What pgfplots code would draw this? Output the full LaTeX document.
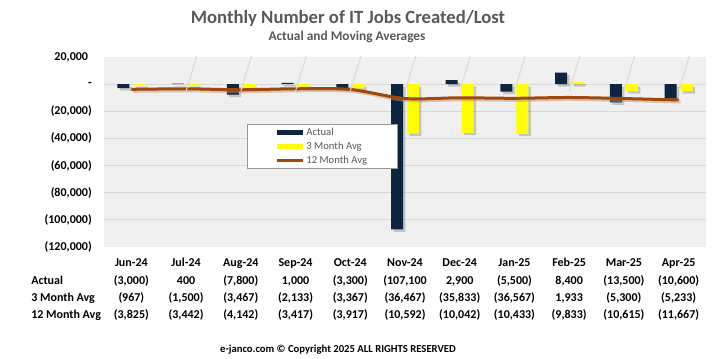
\documentclass[border=0pt]{standalone}
\usepackage{fontspec}
\setmainfont{Carlito}
\usepackage{pgfplots}
\pgfplotsset{compat=1.18}
\definecolor{navy}{RGB}{15,36,62}
\definecolor{jyellow}{RGB}{255,255,0}
\definecolor{jbrown}{RGB}{158,72,12}
\definecolor{plotbg}{RGB}{240,240,240}
\definecolor{gridc}{RGB}{217,217,217}
\definecolor{titlec}{RGB}{89,89,89}
\newcommand\tl[4]{\strut #1\\#2\\#3\\#4}
\begin{document}
\begin{tikzpicture}
\path[use as bounding box, fill=white] (0,0) rectangle (537.75pt,-269.25pt);
\begin{axis}[
  at={(78pt,-42.75pt)}, anchor=north west,
  scale only axis, width=451.5pt, height=142.5pt,
  xmin=-0.5, xmax=10.5, ymin=-120000, ymax=20000,
  scaled y ticks=false,
  axis background/.style={fill=plotbg},
  axis line style={draw=none},
  tick style={draw=none},
  major tick length=0pt,
  ytick={20000,0,-20000,-40000,-60000,-80000,-100000,-120000},
  yticklabels={{20,000\phantom{)}}, {-\hspace{5pt}}, {(20,000)}, {(40,000)}, {(60,000)}, {(80,000)}, {(100,000)}, {(120,000)}},
  extra y ticks={0,-20000,-40000,-60000,-80000,-100000},
  extra y tick labels={},
  extra y tick style={grid=major, major grid style={gridc, line width=0.75pt}},
  ticklabel style={font=\fontsize{9}{13}\selectfont\bfseries, text=black},
  yticklabel style={anchor=east, inner sep=0pt, xshift=-9pt},
  xtick={0,1,2,3,4,5,6,7,8,9,10},
  xticklabels={
    {\tl{Jun-24}{(3,000)}{(967)}{(3,825)}},
    {\tl{Jul-24}{400}{(1,500)}{(3,442)}},
    {\tl{Aug-24}{(7,800)}{(3,467)}{(4,142)}},
    {\tl{Sep-24}{1,000}{(2,133)}{(3,417)}},
    {\tl{Oct-24}{(3,300)}{(3,367)}{(3,917)}},
    {\tl{Nov-24}{(107,100}{(36,467)}{(10,592)}},
    {\tl{Dec-24}{2,900}{(35,833)}{(10,042)}},
    {\tl{Jan-25}{(5,500)}{(36,567)}{(10,433)}},
    {\tl{Feb-25}{8,400}{1,933}{(9,833)}},
    {\tl{Mar-25}{(13,500)}{(5,300)}{(10,615)}},
    {\tl{Apr-25}{(10,600)}{(5,233)}{(11,667)}}},
  xticklabel style={anchor=north, align=center, inner sep=0pt, yshift=-5.5pt},
  legend style={at={(0.2375,0.6474)}, anchor=north west, draw=gray!80, fill=white,
    line width=0.6pt, font=\fontsize{8}{9.6}\selectfont, text=titlec,
    inner xsep=21pt, inner ysep=0.8pt, row sep=0pt,
    nodes={inner sep=1.5pt, text height=6pt, text depth=1.5pt}},
  legend cell align=left,
]
% shadows
\addplot[ybar, bar width=9pt, bar shift=-6pt, fill=black, opacity=0.18, draw=none, forget plot,
  transform canvas={xshift=1.8pt, yshift=-1.8pt}]
  coordinates {(0,-3000) (1,400) (2,-7800) (3,1000) (4,-3300) (5,-107100) (6,2900) (7,-5500) (8,8400) (9,-13500) (10,-10600)};
\addplot[ybar, bar width=9pt, bar shift=6pt, fill=black, opacity=0.18, draw=none, forget plot,
  transform canvas={xshift=1.8pt, yshift=-1.8pt}]
  coordinates {(0,-967) (1,-1500) (2,-3467) (3,-2133) (4,-3367) (5,-36467) (6,-35833) (7,-36567) (8,1933) (9,-5300) (10,-5233)};
% bars
\addplot[ybar, bar width=9pt, bar shift=-6pt, fill=navy, draw=none,
  legend image code/.code={\fill[navy] (0pt,-1.9pt) rectangle (19.5pt,1.9pt);}]
  coordinates {(0,-3000) (1,400) (2,-7800) (3,1000) (4,-3300) (5,-107100) (6,2900) (7,-5500) (8,8400) (9,-13500) (10,-10600)};
\addlegendentry{Actual}
\addplot[ybar, bar width=9pt, bar shift=6pt, fill=jyellow, draw=none,
  legend image code/.code={\fill[jyellow] (0pt,-1.9pt) rectangle (19.5pt,1.9pt);}]
  coordinates {(0,-967) (1,-1500) (2,-3467) (3,-2133) (4,-3367) (5,-36467) (6,-35833) (7,-36567) (8,1933) (9,-5300) (10,-5233)};
\addlegendentry{3 Month Avg}
\addplot[jbrown!60, opacity=0.5, line width=2.25pt, smooth, no markers, forget plot,
  transform canvas={xshift=1.5pt, yshift=-1.5pt}]
  coordinates {(0,-3825) (1,-3442) (2,-4142) (3,-3417) (4,-3917) (5,-10592) (6,-10042) (7,-10433) (8,-9833) (9,-10615) (10,-11667)};
\addplot[jbrown, line width=2.25pt, smooth, no markers,
  legend image code/.code={\draw[jbrown, line width=2.25pt] (0pt,0pt) -- (19.5pt,0pt);}]
  coordinates {(0,-3825) (1,-3442) (2,-4142) (3,-3417) (4,-3917) (5,-10592) (6,-10042) (7,-10433) (8,-9833) (9,-10615) (10,-11667)};
\addlegendentry{12 Month Avg}
\foreach \xx in {0.5,1.5,2.5,3.5,4.5,5.5,6.5,7.5,8.5,9.5}{
  \edef\tmp{\noexpand\draw[gridc, line width=0.75pt] (axis cs:\xx,-120000) ++(0,-5.25pt) -- ++(0,-54.75pt);}\tmp
}
\end{axis}
\node[anchor=north west, align=left, inner sep=0pt, font=\fontsize{9}{13}\selectfont\bfseries]
  at (23.25pt,-190.75pt) {\strut\\Actual\\3 Month Avg\\12 Month Avg};
\node[anchor=base, font=\fontsize{14}{16}\selectfont\bfseries, text=titlec] at (261pt,-17.6pt) {Monthly Number of IT Jobs Created/Lost};
\node[anchor=base, font=\fontsize{10}{12}\selectfont\bfseries, text=titlec] at (260.25pt,-30.4pt) {Actual and Moving Averages};
\node[anchor=base, font=\fontsize{8}{10}\selectfont\bfseries] at (253.5pt,-264.75pt) {e-janco.com \textcopyright{} Copyright 2025 ALL RIGHTS RESERVED};
\end{tikzpicture}
\end{document}
